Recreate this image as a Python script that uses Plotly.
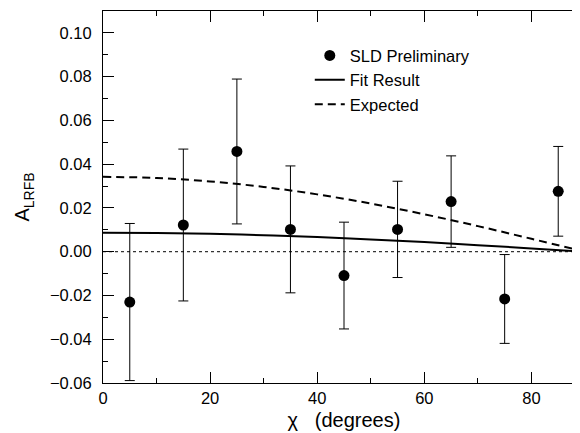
import plotly.graph_objects as go

# Data points (SLD Preliminary)
chi = [5, 15, 25, 35, 45, 55, 65, 75, 85]
a_lrfb = [-0.0230, 0.0122, 0.0458, 0.0102, -0.0109, 0.0102, 0.0229, -0.0216, 0.0276]
a_err = [0.0359, 0.0347, 0.0331, 0.0290, 0.0244, 0.0220, 0.0209, 0.0203, 0.0205]

# Curves
curve_chi = [0, 10, 20, 30, 40, 50, 60, 70, 80, 90]
fit_result = [0.0087, 0.0086, 0.0082, 0.0075, 0.0067, 0.0056, 0.0044, 0.0030, 0.0015, 0.0000]
expected = [0.0342, 0.0337, 0.0321, 0.0296, 0.0262, 0.0220, 0.0171, 0.0117, 0.0059, 0.0000]

x_range = [0, 90]
y_range = [-0.06, 0.11]

FONT = "Liberation Sans, Arial, sans-serif"
FS = 16.5

fig = go.Figure()

fig.add_trace(go.Scatter(
    x=chi, y=a_lrfb, mode="markers", name="SLD Preliminary",
    marker=dict(color="black", size=11),
    error_y=dict(type="data", array=a_err, visible=True, color="black",
                 thickness=1, width=5),
))
fig.add_trace(go.Scatter(
    x=curve_chi, y=fit_result, mode="lines", name="Fit Result",
    line=dict(color="black", width=2, shape="spline"),
))
fig.add_trace(go.Scatter(
    x=curve_chi, y=expected, mode="lines", name="Expected",
    line=dict(color="black", width=2, dash="8px,5px", shape="spline"),
))

fig.add_hline(y=0, line=dict(color="black", width=1, dash="dot"))

fig.update_layout(
    width=580, height=433,
    margin=dict(l=95, r=3, t=3, b=58),
    paper_bgcolor="white", plot_bgcolor="white",
    font=dict(family=FONT, size=FS, color="black"),
    showlegend=True,
    legend=dict(x=0.429, y=0.927, xanchor="left", yanchor="top",
                bgcolor="rgba(0,0,0,0)", font=dict(size=FS),
                itemwidth=30),
    xaxis=dict(
        range=x_range, showgrid=False, zeroline=False,
        showline=True, linecolor="black", linewidth=1, mirror="ticks",
        ticks="inside", ticklen=11, tickcolor="black", tickwidth=1,
        dtick=20, tick0=0,
        minor=dict(dtick=10, ticks="inside", ticklen=5, tickcolor="black"),
        title=dict(text="χ   (degrees)", standoff=7),
    ),
    yaxis=dict(
        range=y_range, showgrid=False, zeroline=False,
        showline=True, linecolor="black", linewidth=1, mirror="ticks",
        ticks="inside", ticklen=11, tickcolor="black", tickwidth=1,
        dtick=0.02, tick0=0, tickformat=".2f", ticklabelstandoff=7,
        minor=dict(dtick=0.01, ticks="inside", ticklen=5, tickcolor="black"),
        title=dict(text="A<sub>LRFB</sub>", standoff=14),
    ),
)

fig.write_html("out.html")
